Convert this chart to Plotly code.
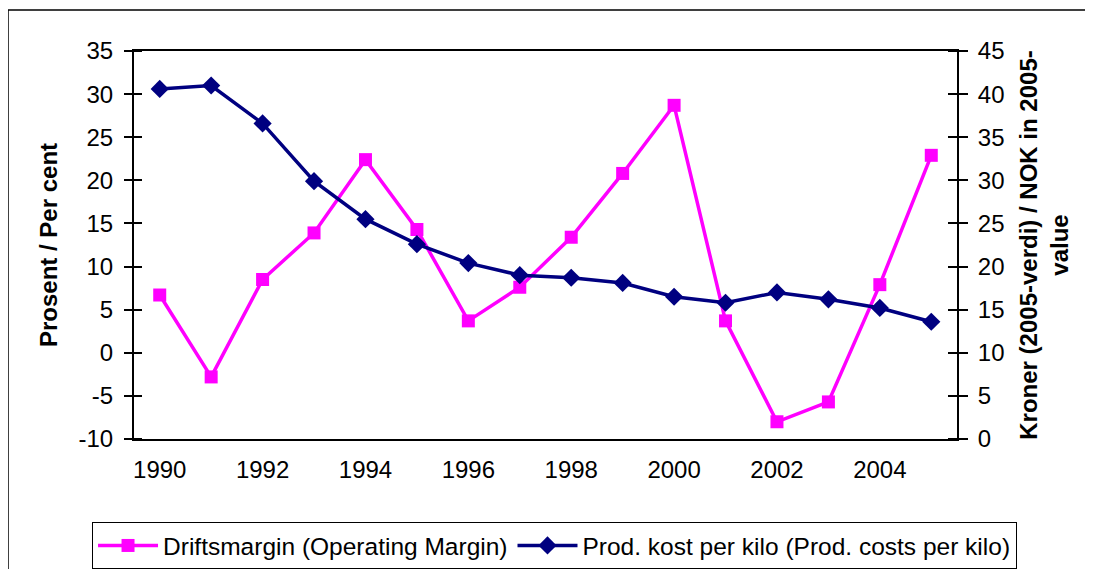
import plotly.graph_objects as go

years = list(range(1990, 2006))
margin_pct = [6.7, -2.8, 8.5, 13.9, 22.4, 14.3, 3.7, 7.6, 13.4, 20.8, 28.7, 3.7, -8.0, -5.7, 7.9, 22.9]
cost_per_kilo = [40.6, 41.0, 36.6, 29.9, 25.5, 22.6, 20.4, 19.0, 18.7, 18.1, 16.5, 15.8, 17.0, 16.2, 15.2, 13.6]
x_tick_labels = [str(y) for y in range(1990, 2006, 2)]
left_ticks = list(range(-10, 40, 5))
right_ticks = list(range(0, 50, 5))

name_margin = "Driftsmargin (Operating Margin)"
name_cost = "Prod. kost per kilo (Prod. costs per kilo)"

PINK = "#FF00FF"
NAVY = "#000080"
FONT = "Liberation Sans, Arial, sans-serif"
FS = 24

fig = go.Figure()
fig.add_trace(go.Scatter(
    x=years, y=margin_pct, name=name_margin, mode="lines+markers",
    line=dict(color=PINK, width=3.5),
    marker=dict(symbol="square", size=13, color=PINK),
    xaxis="x", yaxis="y"))
fig.add_trace(go.Scatter(
    x=years, y=cost_per_kilo, name=name_cost, mode="lines+markers",
    line=dict(color=NAVY, width=3.5),
    marker=dict(symbol="diamond", size=14, color=NAVY),
    xaxis="x", yaxis="y2"))

y_min, y_max = left_ticks[0], 35
zero_pos = (0 - y_min) / (y_max - y_min)

# page body has an 8px margin, so the figure is 8px smaller and offsets are compensated
fig.update_layout(
    width=1085, height=561,
    margin=dict(l=126, r=136, t=43, b=130, autoexpand=False),
    paper_bgcolor="white", plot_bgcolor="white",
    font=dict(family=FONT, size=FS, color="black"),
    showlegend=True,
    legend=dict(
        orientation="h", x=-0.051, xanchor="left", y=-0.214, yanchor="top",
        bordercolor="black", borderwidth=1, bgcolor="white",
        font=dict(family=FONT, size=24.5), itemsizing="trace",
        tracegroupgap=0, itemwidth=60),
    xaxis=dict(
        range=[1989.5, 2005.5], tickvals=[int(v) for v in x_tick_labels], ticktext=x_tick_labels,
        showline=True, linecolor="black", linewidth=2, mirror=True,
        ticks="", showgrid=False, zeroline=False, automargin=False,
        ticklabelstandoff=8, tickfont=dict(size=FS)),
    xaxis2=dict(
        overlaying="x", anchor="free", position=zero_pos, automargin=False,
        range=[1989.5, 2005.5], tickvals=[y - 0.5 for y in years] + [2005.5],
        showticklabels=False, ticks="outside", ticklen=7, tickwidth=1.5, tickcolor="black",
        showline=True, linecolor="black", linewidth=2, showgrid=False, zeroline=False),
    yaxis=dict(
        range=[y_min, y_max], tickvals=left_ticks, ticktext=[str(v) for v in left_ticks],
        showline=True, linecolor="black", linewidth=2, automargin=False,
        ticks="outside", ticklen=8, tickwidth=1.5, tickcolor="black",
        minor=dict(ticks="inside", tickvals=left_ticks, ticklen=8, tickwidth=1.5, tickcolor="black", showgrid=False),
        showgrid=False, zeroline=False, ticklabelstandoff=6,
        tickfont=dict(size=FS),
        title=dict(text="<b>Prosent / Per cent</b>", font=dict(size=FS), standoff=14)),
    yaxis2=dict(
        range=[0, 45], tickvals=right_ticks, ticktext=[str(v) for v in right_ticks],
        overlaying="y", side="right", anchor="x", automargin=False,
        showline=True, linecolor="black", linewidth=2,
        ticks="outside", ticklen=9, tickwidth=1.5, tickcolor="black",
        minor=dict(ticks="inside", tickvals=right_ticks, ticklen=9, tickwidth=1.5, tickcolor="black", showgrid=False),
        showgrid=False, zeroline=False, ticklabelstandoff=5,
        tickfont=dict(size=FS),
        title=dict(text="<b>Kroner (2005-verdi) / NOK in 2005-<br>value</b>", font=dict(size=FS), standoff=17)),
    shapes=[dict(type="rect", xref="paper", yref="paper",
                 x0=-0.1531, x1=1.17, y0=-0.37, y1=1.1057,
                 line=dict(color="black", width=1.5), fillcolor="rgba(0,0,0,0)", layer="below")],
)

fig.write_html("out.html")
